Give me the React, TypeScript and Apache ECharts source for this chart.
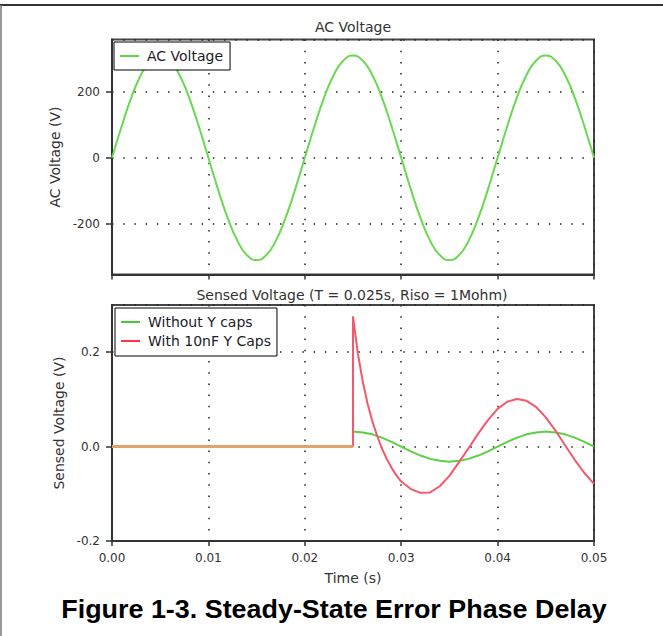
import { useEffect, useRef } from "react";
import * as echarts from "echarts";

// ---- data ----
const sampleTimes = [
  0, 0.001, 0.002, 0.003, 0.004, 0.005, 0.006, 0.007, 0.008, 0.009,
  0.01, 0.011, 0.012, 0.013, 0.014, 0.015, 0.016, 0.017, 0.018, 0.019,
  0.02, 0.021, 0.022, 0.023, 0.024, 0.025, 0.026, 0.027, 0.028, 0.029,
  0.03, 0.031, 0.032, 0.033, 0.034, 0.035, 0.036, 0.037, 0.038, 0.039,
  0.04, 0.041, 0.042, 0.043, 0.044, 0.045, 0.046, 0.047, 0.048, 0.049, 0.05,
];
const acVoltage = [
  0, 96, 183, 252, 296, 311, 296, 252, 183, 96,
  0, -96, -183, -252, -296, -311, -296, -252, -183, -96,
  0, 96, 183, 252, 296, 311, 296, 252, 183, 96,
  0, -96, -183, -252, -296, -311, -296, -252, -183, -96,
  0, 96, 183, 252, 296, 311, 296, 252, 183, 96, 0,
];

const flatTimes = [0, 0.025];
const flatValues = [0, 0];

const noCapTimes = [
  0.025, 0.025, 0.026, 0.027, 0.028, 0.029, 0.03, 0.031, 0.032, 0.033, 0.034,
  0.035, 0.036, 0.037, 0.038, 0.039, 0.04, 0.041, 0.042, 0.043, 0.044, 0.045,
  0.046, 0.047, 0.048, 0.049, 0.05,
];
const noCapValues = [
  0, 0.032, 0.03, 0.026, 0.019, 0.01, 0, -0.01, -0.019, -0.026, -0.03,
  -0.032, -0.03, -0.026, -0.019, -0.01, 0, 0.01, 0.019, 0.026, 0.03, 0.032,
  0.03, 0.026, 0.019, 0.01, 0,
];

const capTimes = [
  0.025, 0.025, 0.0255, 0.026, 0.0265, 0.027, 0.0275, 0.028, 0.0285, 0.029,
  0.0295, 0.03, 0.031, 0.032, 0.033, 0.034, 0.035, 0.036, 0.037, 0.038,
  0.039, 0.04, 0.041, 0.042, 0.043, 0.044, 0.045, 0.046, 0.047, 0.048,
  0.049, 0.05,
];
const capValues = [
  0, 0.276, 0.198, 0.139, 0.092, 0.054, 0.023, -0.004, -0.026, -0.045,
  -0.061, -0.074, -0.09, -0.098, -0.097, -0.084, -0.062, -0.033, -0.003, 0.028,
  0.056, 0.08, 0.095, 0.101, 0.097, 0.084, 0.062, 0.034, 0.003, -0.028,
  -0.056, -0.079,
];

const seriesNames = ["AC Voltage", "Without Y caps", "With 10nF Y Caps"];
const plotTitles = ["AC Voltage", "Sensed Voltage (T = 0.025s, Riso = 1Mohm)"];
const axisNames = ["AC Voltage (V)", "Sensed Voltage (V)", "Time (s)"];
const caption = "Figure 1-3. Steady-State Error Phase Delay";

const pairs = (xs: number[], ys: number[]) => xs.map((x, i) => [x, ys[i]]);

const FONT = '"DejaVu Sans", Verdana, sans-serif';
const GRID_DOT = { color: "#222", width: 1.5, type: [1.5, 9.7] as any };

export default function App() {
  const ref = useRef<HTMLDivElement>(null);
  useEffect(() => {
    if (!ref.current) return;
    const chart = echarts.init(ref.current, null, { renderer: "svg" });

    const xAxisBase = (gridIndex: number, showLabels: boolean) => ({
      type: "value",
      gridIndex,
      min: 0,
      max: 0.05,
      interval: 0.01,
      z: 3,
      axisLine: { show: true, onZero: false, lineStyle: { color: "#333", width: 2 } },
      axisTick: { show: true, length: 5, lineStyle: { color: "#333", width: 1.5 } },
      axisLabel: {
        show: showLabels,
        margin: 11,
        color: "#333",
        fontSize: 12,
        fontFamily: FONT,
        formatter: (v: number) => v.toFixed(2),
      },
      splitLine: { show: true, lineStyle: GRID_DOT },
      name: showLabels ? axisNames[2] : "",
      nameLocation: "middle",
      nameGap: 30,
      nameTextStyle: { color: "#333", fontSize: 14, fontFamily: FONT },
    });

    const option: any = {
      animation: false,
      backgroundColor: "#fff",
      grid: [
        { left: 112, top: 39.5, width: 482, height: 235, show: true, borderColor: "#444", borderWidth: 2, backgroundColor: "transparent" },
        { left: 112, top: 305, width: 482, height: 236, show: true, borderColor: "#444", borderWidth: 2, backgroundColor: "transparent" },
      ],
      xAxis: [xAxisBase(0, false), xAxisBase(1, true)],
      yAxis: [
        {
          type: "value",
          gridIndex: 0,
          min: -355,
          max: 360,
          splitNumber: 3,
          z: 3,
          axisLine: { show: true, onZero: false, lineStyle: { color: "#333", width: 2 } },
          axisTick: { show: true, length: 6, lineStyle: { color: "#333", width: 1.5 } },
          axisLabel: {
            margin: 12, color: "#333", fontSize: 12, fontFamily: FONT,
            showMinLabel: false, showMaxLabel: false,
          },
          splitLine: { show: true, lineStyle: GRID_DOT },
          name: axisNames[0],
          nameLocation: "middle",
          nameGap: 39,
          nameTextStyle: { color: "#333", fontSize: 14, fontFamily: FONT },
        },
        {
          type: "value",
          gridIndex: 1,
          min: -0.2,
          max: 0.3,
          interval: 0.2,
          z: 3,
          axisLine: { show: true, onZero: false, lineStyle: { color: "#333", width: 2 } },
          axisTick: { show: true, length: 6, lineStyle: { color: "#333", width: 1.5 } },
          axisLabel: {
            margin: 12, color: "#333", fontSize: 12, fontFamily: FONT,
            showMaxLabel: false,
            formatter: (v: number) => v.toFixed(1),
          },
          splitLine: { show: true, lineStyle: GRID_DOT },
          name: axisNames[1],
          nameLocation: "middle",
          nameGap: 39,
          nameTextStyle: { color: "#333", fontSize: 14, fontFamily: FONT },
        },
      ],
      legend: [
        {
          data: [seriesNames[0]],
          left: 114,
          top: 42,
          orient: "vertical",
          icon: "rect",
          itemWidth: 19,
          itemHeight: 2,
          padding: [6, 7, 6, 6],
          backgroundColor: "#fff",
          borderColor: "#000",
          borderWidth: 1,
          textStyle: { color: "#1c1c2a", fontSize: 14, fontFamily: FONT, lineHeight: 16, padding: [0, 0, 0, 3] },
        },
        {
          data: [seriesNames[1], seriesNames[2]],
          left: 115,
          top: 308,
          orient: "vertical",
          icon: "rect",
          itemWidth: 19,
          itemHeight: 2,
          itemGap: 3,
          padding: [6, 6, 7, 6],
          backgroundColor: "#fff",
          borderColor: "#000",
          borderWidth: 1,
          textStyle: { color: "#1c1c2a", fontSize: 14, fontFamily: FONT, lineHeight: 16, padding: [0, 0, 0, 3] },
        },
      ],
      series: [
        {
          name: seriesNames[0],
          type: "line",
          xAxisIndex: 0,
          yAxisIndex: 0,
          data: pairs(sampleTimes, acVoltage),
          smooth: true,
          showSymbol: false,
          symbol: "none",
          color: "#5fd646",
          lineStyle: { color: "#6ad850", width: 2 },
        },
        {
          name: seriesNames[1],
          type: "line",
          xAxisIndex: 1,
          yAxisIndex: 1,
          data: pairs(noCapTimes, noCapValues),
          showSymbol: false,
          symbol: "none",
          color: "#46cc33",
          lineStyle: { color: "#5ccf46", width: 2 },
        },
        {
          name: seriesNames[2],
          type: "line",
          xAxisIndex: 1,
          yAxisIndex: 1,
          data: pairs(capTimes, capValues),
          showSymbol: false,
          symbol: "none",
          color: "#ff3344",
          lineStyle: { color: "#f5586c", width: 2 },
        },
        {
          name: "overlap",
          type: "line",
          xAxisIndex: 1,
          yAxisIndex: 1,
          data: pairs(flatTimes, flatValues),
          showSymbol: false,
          symbol: "none",
          color: "#dda46c",
          lineStyle: { color: "#dda46c", width: 3 },
        },
      ],
      graphic: [
        { type: "line", shape: { x1: 0, y1: 5, x2: 663, y2: 5 }, style: { stroke: "#333", lineWidth: 2 } },
        { type: "line", shape: { x1: 1, y1: 5, x2: 1, y2: 636 }, style: { stroke: "#777", lineWidth: 1.5 } },
        {
          type: "text", x: 353, y: 27,
          style: { text: plotTitles[0], fill: "#333", font: `14px ${FONT}`, align: "center", verticalAlign: "middle" },
        },
        {
          type: "text", x: 352, y: 295,
          style: { text: plotTitles[1], fill: "#333", font: `14px ${FONT}`, align: "center", verticalAlign: "middle" },
        },
        {
          type: "text", x: 334, y: 609, scaleX: 1.035,
          style: { text: caption, fill: "#000", font: `bold 26px "Liberation Sans", Arial, sans-serif`, align: "center", verticalAlign: "middle" },
        },
      ],
    };
    chart.setOption(option);
    return () => chart.dispose();
  }, []);
  return (
    <div
      ref={ref}
      style={{ position: "fixed", left: 0, top: 0, width: 663, height: 636, background: "#fff" }}
    />
  );
}
